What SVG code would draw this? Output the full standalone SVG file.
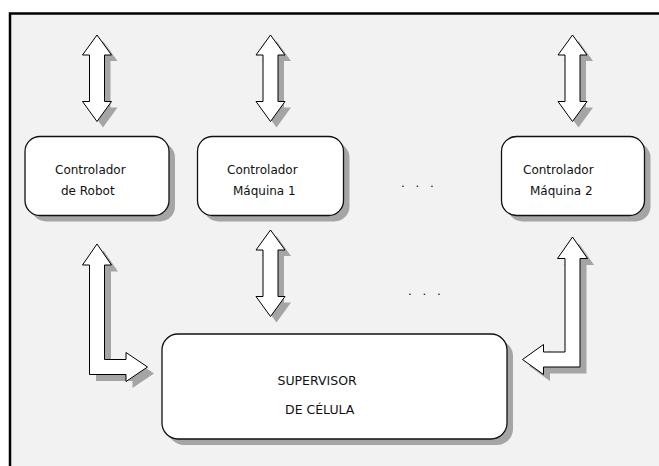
<svg xmlns="http://www.w3.org/2000/svg" xmlns:xlink="http://www.w3.org/1999/xlink" width="659" height="466" viewBox="0 0 659 466">
<style>
.frame{fill:#f2f2f2;stroke:#000;stroke-width:2.5}
.box{fill:#fff;stroke:#111;stroke-width:1.3}
.shadow{fill:#a5a5a5;stroke:none}
.arrow{fill:#fff;stroke:#000;stroke-width:1;stroke-linejoin:miter}
.lbl{font-family:"DejaVu Sans","Liberation Sans",sans-serif;font-size:12px;fill:#111}
.sup{font-family:"DejaVu Sans","Liberation Sans",sans-serif;font-size:12.5px;fill:#111}
.dots{font-family:"Liberation Sans",sans-serif;font-size:13.5px;fill:#111;letter-spacing:3.5px}
</style>
<defs>
<path id="dbl" d="M0,0 L14.5,20 L7.5,20 L7.5,66.5 L14.5,66.5 L0,86.5 L-14.5,66.5 L-7.5,66.5 L-7.5,20 L-14.5,20 Z"/>
<path id="lRobot" d="M97,244 L111.5,265 L104.5,265 L104.5,359.5 L126,359.5 L126,352.5 L147.5,367 L126,381.5 L126,374.5 L89.5,374.5 L89.5,265 L82.5,265 Z"/>
<path id="lM2" d="M572.5,237 L587.5,258.5 L580,258.5 L580,367 L543.5,367 L543.5,374.5 L522.5,359.5 L543.5,344.5 L543.5,352 L565,352 L565,258.5 L557.5,258.5 Z"/>
</defs>
<rect class="frame" x="10" y="13.5" width="700" height="500"/>
<g id="connectors">
<use href="#dbl" xlink:href="#dbl" class="shadow" transform="translate(103,41)"/>
<use href="#dbl" xlink:href="#dbl" class="arrow" transform="translate(97,35)"/>
<use href="#dbl" xlink:href="#dbl" class="shadow" transform="translate(276.5,41)"/>
<use href="#dbl" xlink:href="#dbl" class="arrow" transform="translate(270.5,35)"/>
<use href="#dbl" xlink:href="#dbl" class="shadow" transform="translate(578.5,41)"/>
<use href="#dbl" xlink:href="#dbl" class="arrow" transform="translate(572.5,35)"/>
<use href="#dbl" xlink:href="#dbl" class="shadow" transform="translate(276.5,236)"/>
<use href="#dbl" xlink:href="#dbl" class="arrow" transform="translate(270.5,230)"/>
<use href="#lRobot" xlink:href="#lRobot" class="shadow" transform="translate(6.5,6.5)"/>
<use href="#lRobot" xlink:href="#lRobot" class="arrow"/>
<use href="#lM2" xlink:href="#lM2" class="shadow" transform="translate(6.5,6.5)"/>
<use href="#lM2" xlink:href="#lM2" class="arrow"/>
</g>
<g id="robot">
<rect class="shadow" x="31" y="142.5" width="144" height="79" rx="15"/>
<rect class="box" x="25" y="136.5" width="144" height="79" rx="15"/>
<text class="lbl" x="55" y="174">Controlador</text>
<text class="lbl" x="61" y="195">de Robot</text>
</g>
<g id="maquina1">
<rect class="shadow" x="203.5" y="142.5" width="146" height="79" rx="15"/>
<rect class="box" x="197.5" y="136.5" width="146" height="79" rx="15"/>
<text class="lbl" x="227" y="174">Controlador</text>
<text class="lbl" x="233" y="195">Máquina 1</text>
</g>
<g id="maquina2">
<rect class="shadow" x="507.5" y="142.5" width="143" height="79" rx="15"/>
<rect class="box" x="501.5" y="136.5" width="143" height="79" rx="15"/>
<text class="lbl" x="523" y="174">Controlador</text>
<text class="lbl" x="530" y="195">Máquina 2</text>
</g>
<g id="supervisor">
<rect class="shadow" x="168" y="340" width="345" height="105" rx="16"/>
<rect class="box" x="162" y="334" width="345" height="105" rx="16"/>
<text class="sup" x="277.5" y="385">SUPERVISOR</text>
<text class="sup" x="285" y="414">DE CÉLULA</text>
</g>
<g id="ellipses">
<text class="dots" x="401" y="186.5">. . .</text>
<text class="dots" x="408" y="294.5">. . .</text>
</g>
</svg>
